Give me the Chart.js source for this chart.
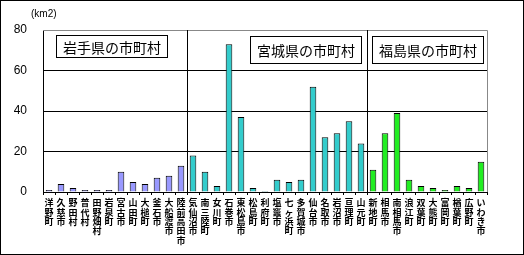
<!DOCTYPE html>
<html>
<head>
<meta charset="utf-8">
<script src="https://cdn.jsdelivr.net/npm/chart.js@4"></script>
<style>
  html, body { margin: 0; padding: 0; background: #fff; }
  #wrap { width: 524px; height: 255px; }
</style>
</head>
<body>
<div id="wrap"><canvas id="areaChart" width="524" height="255"></canvas></div>
<script>
// 市町村と浸水面積(km2)
const iwateTowns = ['洋野町', '久慈市', '野田村', '普代村', '田野畑村', '岩泉町', '宮古市', '山田町', '大槌町', '釜石市', '大船渡市', '陸前高田市'];
const iwateValues = [1, 4, 2, 1, 1, 1, 10, 5, 4, 7, 8, 13];

const miyagiTowns = ['気仙沼市', '南三陸町', '女川町', '石巻市', '東松島市', '松島町', '利府町', '塩竈市', '七ヶ浜町', '多賀城市', '仙台市', '名取市', '岩沼市', '亘理町', '山元町'];
const miyagiValues = [18, 10, 3, 73, 37, 2, 0.5, 6, 5, 6, 52, 27, 29, 35, 24];

const fukushimaTowns = ['新地町', '相馬市', '南相馬市', '浪江町', '双葉町', '大熊町', '富岡町', '楢葉町', '広野町', 'いわき市'];
const fukushimaValues = [11, 29, 39, 6, 3, 2, 1, 3, 2, 15];

const groupNames = ['岩手県の市町村', '宮城県の市町村', '福島県の市町村'];
const groupColors = ['#9999ff', '#33cccc', '#22ee22'];
const yTicks = [0, 20, 40, 60, 80];

const groups = [iwateTowns, miyagiTowns, fukushimaTowns];
const labels = [].concat(iwateTowns, miyagiTowns, fukushimaTowns);
const values = [].concat(iwateValues, miyagiValues, fukushimaValues);
const colors = [];
groups.forEach(function (g, i) {
    g.forEach(function () { colors.push(groupColors[i]); });
});

// 県の区切り線・見出し枠・外枠
const decor = {
    id: 'decor',
    afterDraw: function (chart) {
        const c = chart.ctx;
        const a = chart.chartArea;
        const x = chart.scales.x;
        c.save();
        // plot border top/right (gray)
        c.strokeStyle = '#888';
        c.lineWidth = 1;
        c.beginPath();
        c.moveTo(a.left, Math.round(a.top) + 0.5);
        c.lineTo(Math.round(a.right) + 0.5, Math.round(a.top) + 0.5);
        c.lineTo(Math.round(a.right) + 0.5, a.bottom);
        c.stroke();

        // dividers
        c.strokeStyle = '#000';
        let start = 0;
        const bounds = [a.left];
        groups.forEach(function (g, i) {
            start += g.length;
            if (i < groups.length - 1) {
                const px = Math.round((x.getPixelForValue(start - 1) + x.getPixelForValue(start)) / 2) + 0.5;
                c.beginPath();
                c.moveTo(px, a.top);
                c.lineTo(px, a.bottom);
                c.stroke();
                bounds.push(px);
            }
        });
        bounds.push(a.right);

        // title boxes
        const boxW = 111;
        const offs = [13, null, 4];
        c.font = '14px "Noto Sans CJK JP"';
        c.textAlign = 'center';
        c.textBaseline = 'middle';
        groupNames.forEach(function (name, i) {
            let bx;
            if (offs[i] === null) bx = bounds[i + 1] - 7 - boxW;
            else bx = bounds[i] + offs[i];
            bx = Math.round(bx) + 0.5;
            const by = i === 0 ? 35.5 : 36.5;
            const bh = i === 0 ? 22 : 27;
            c.fillStyle = '#fff';
            c.fillRect(bx, by, boxW, bh);
            c.strokeStyle = '#000';
            c.strokeRect(bx, by, boxW, bh);
            c.fillStyle = '#000';
            c.fillText(name, bx + boxW / 2, by + bh / 2 + 1);
        });

        // unit label
        c.font = '10px "Liberation Sans"';
        c.textAlign = 'left';
        c.fillText('(km2)', 31, 14);

        // outer frame
        c.strokeStyle = '#000';
        c.strokeRect(0.5, 0.5, chart.width - 1, chart.height - 1);
        c.restore();
    }
};

const ctx = document.getElementById('areaChart');
new Chart(ctx.getContext('2d'), {
    type: 'bar',
    data: {
        labels: labels.map(function (s) { return s.split(''); }),
        datasets: [{
            data: values,
            backgroundColor: colors,
            borderColor: '#000',
            borderWidth: 1,
            barPercentage: 0.55,
            categoryPercentage: 1
        }]
    },
    options: {
        responsive: false,
        animation: false,
        layout: { padding: { left: 0, right: 37, top: 30, bottom: 0 } },
        plugins: {
            legend: { display: false },
            tooltip: { enabled: false }
        },
        scales: {
            y: {
                min: 0,
                max: 80,
                afterFit: function (s) { s.width = 43; },
                afterBuildTicks: function (s) {
                    s.ticks = yTicks.map(function (v) { return { value: v }; });
                },
                grid: {
                    color: function (c) { return c.tick.value === 80 ? 'rgba(0,0,0,0)' : '#000'; },
                    drawTicks: false
                },
                border: { color: '#000' },
                ticks: {
                    color: '#000',
                    padding: 16,
                    font: { family: "'Liberation Sans'", size: 12 }
                }
            },
            x: {
                afterFit: function (s) { s.height = 63; },
                grid: {
                    offset: true,
                    drawOnChartArea: false,
                    tickLength: 3,
                    color: '#000'
                },
                border: { color: '#000' },
                ticks: {
                    color: '#000',
                    autoSkip: false,
                    maxRotation: 0,
                    minRotation: 0,
                    padding: 3,
                    font: { family: "'Noto Sans CJK JP'", size: 9, weight: 'bold', lineHeight: 1.05 }
                }
            }
        }
    },
    plugins: [decor]
});
</script>
</body>
</html>
